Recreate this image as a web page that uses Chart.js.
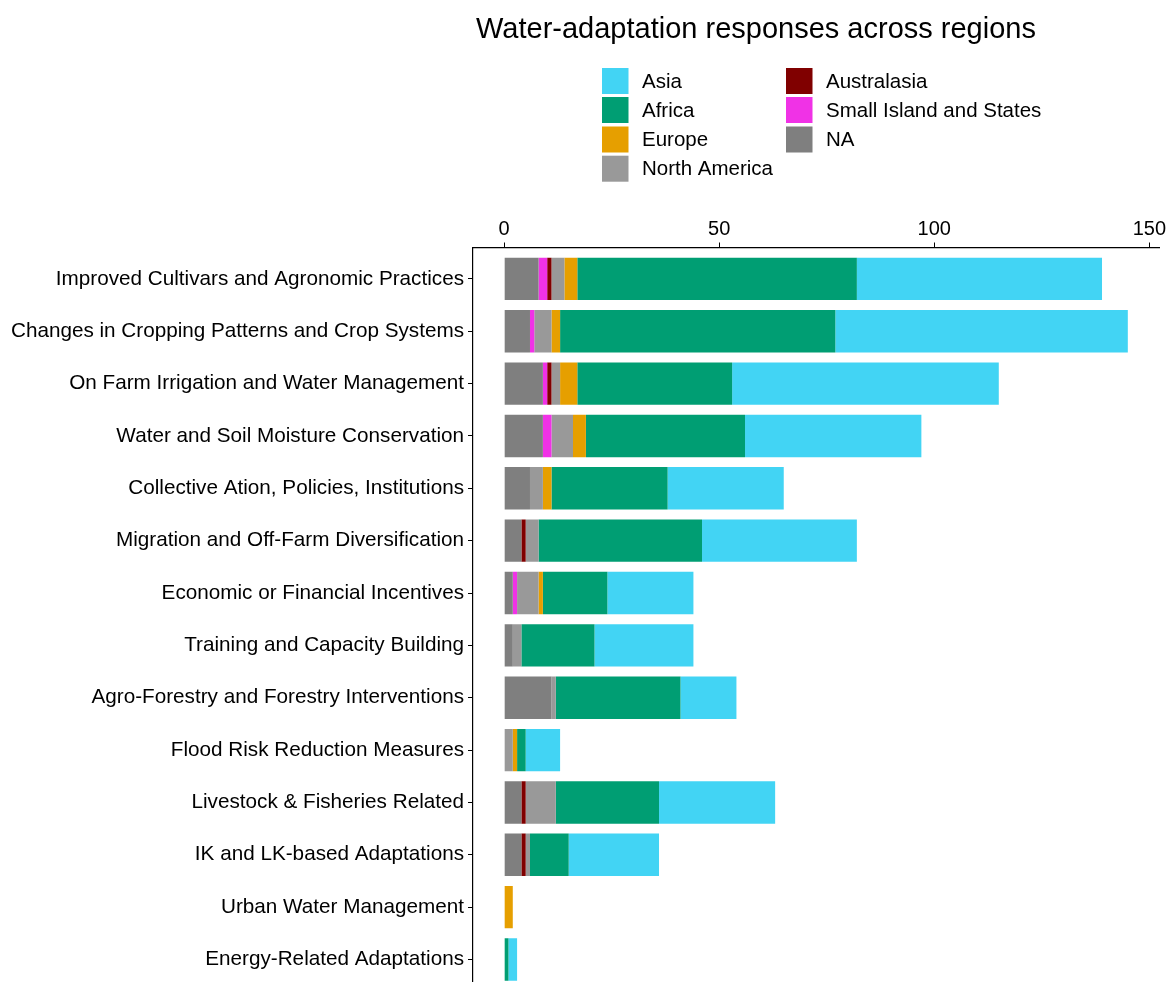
<!DOCTYPE html>
<html>
<head>
<meta charset="utf-8">
<script src="https://cdn.jsdelivr.net/npm/chart.js@4.4.1/dist/chart.umd.min.js"></script>
<style>
  html, body { margin: 0; padding: 0; background: #fff; overflow: hidden; }
  #wrap { width: 1169px; height: 982px; position: relative; }
</style>
</head>
<body>
<div id="wrap"><canvas id="c" width="1169" height="982"></canvas></div>
<script>
const chartTitle = 'Water-adaptation responses across regions';

const categories = [
  'Improved Cultivars and Agronomic Practices',
  'Changes in Cropping Patterns and Crop Systems',
  'On Farm Irrigation and Water Management',
  'Water and Soil Moisture Conservation',
  'Collective Ation, Policies, Institutions',
  'Migration and Off-Farm Diversification',
  'Economic or Financial Incentives',
  'Training and Capacity Building',
  'Agro-Forestry and Forestry Interventions',
  'Flood Risk Reduction Measures',
  'Livestock & Fisheries Related',
  'IK and LK-based Adaptations',
  'Urban Water Management',
  'Energy-Related Adaptations'
];

const xTicks = [0, 50, 100, 150];

// stacked from the axis outward
const naValues           = [8, 6, 9, 9, 6, 4, 2, 2, 11, 0, 4, 4, 0, 0];
const smallIslandValues  = [2, 1, 1, 2, 0, 0, 1, 0, 0, 0, 0, 0, 0, 0];
const australasiaValues  = [1, 0, 1, 0, 0, 1, 0, 0, 0, 0, 1, 1, 0, 0];
const northAmericaValues = [3, 4, 2, 5, 3, 3, 5, 2, 1, 2, 7, 1, 0, 0];
const europeValues       = [3, 2, 4, 3, 2, 0, 1, 0, 0, 1, 0, 0, 2, 0];
const africaValues       = [65, 64, 36, 37, 27, 38, 15, 17, 29, 2, 24, 9, 0, 1];
const asiaValues         = [57, 68, 62, 41, 27, 36, 20, 23, 13, 8, 27, 21, 0, 2];

const seriesNames  = ['NA', 'Small Island and States', 'Australasia', 'North America', 'Europe', 'Africa', 'Asia'];
const seriesValues = [naValues, smallIslandValues, australasiaValues, northAmericaValues, europeValues, africaValues, asiaValues];
const seriesColors = ['#7F7F7F', '#F032E6', '#800000', '#999999', '#E69F00', '#009E73', '#42D4F4'];

const legendOrder = ['Asia', 'Africa', 'Europe', 'North America', 'Australasia', 'Small Island and States', 'NA'];

const FONT = "'Liberation Sans', Arial, Helvetica, sans-serif";

const datasets = seriesNames.map((name, k) => ({
  label: name,
  data: seriesValues[k].map((v, i) => ({ x: v, y: i })),
  backgroundColor: seriesColors[k],
  borderWidth: 0
}));

const headerPlugin = {
  id: 'header',
  afterDraw(chart) {
    const ctx = chart.ctx;
    ctx.save();
    ctx.fillStyle = '#000';
    ctx.font = '29px ' + FONT;
    ctx.textAlign = 'center';
    ctx.textBaseline = 'alphabetic';
    ctx.fillText(chartTitle, 756, 38);

    const colX = [602, 786];
    const rowY = [81, 110, 139.5, 168.7];
    const perCol = 4;
    ctx.font = '20.5px ' + FONT;
    ctx.textAlign = 'left';
    ctx.textBaseline = 'middle';
    legendOrder.forEach((name, j) => {
      const col = Math.floor(j / perCol);
      const row = j % perCol;
      const idx = seriesNames.indexOf(name);
      const x = colX[col];
      const cy = rowY[row];
      ctx.fillStyle = chart.data.datasets[idx].backgroundColor;
      ctx.fillRect(x, cy - 13, 26.5, 26);
      ctx.fillStyle = '#000';
      ctx.fillText(name, x + 40, cy + 1);
    });
    ctx.restore();
  }
};

new Chart(document.getElementById('c'), {
  type: 'bar',
  data: { datasets },
  plugins: [headerPlugin],
  options: {
    responsive: false,
    animation: false,
    devicePixelRatio: 1,
    indexAxis: 'y',
    layout: { padding: { top: 0, right: 10, bottom: 0, left: 0 } },
    datasets: { bar: { barPercentage: 0.81, categoryPercentage: 1 } },
    plugins: {
      legend: { display: false },
      title: { display: false },
      tooltip: { enabled: false }
    },
    scales: {
      x: {
        type: 'linear',
        position: 'top',
        stacked: true,
        offset: false,
        min: -7.25,
        max: 152.25,
        afterBuildTicks: s => { s.ticks = xTicks.map(v => ({ value: v })); },
        afterFit: s => { s.height = 247.5; s.paddingLeft = 0; s.paddingRight = 0; },
        grid: { display: true, offset: false, drawOnChartArea: false, drawTicks: true, tickLength: 5, color: '#000', lineWidth: 1 },
        border: { display: true, color: '#000', width: 1.2 },
        ticks: { color: '#000', font: { family: FONT, size: 20 }, padding: 1, maxRotation: 0, autoSkip: false }
      },
      y: {
        type: 'linear',
        reverse: true,
        stacked: true,
        offset: false,
        min: -0.6,
        max: 13.43,
        afterBuildTicks: s => { s.ticks = categories.map((c, i) => ({ value: i })); },
        afterFit: s => { s.width = 473; s.paddingTop = 0; s.paddingBottom = 0; },
        grid: { display: true, offset: false, drawOnChartArea: false, drawTicks: true, tickLength: 5, color: '#000', lineWidth: 1 },
        border: { display: true, color: '#000', width: 1.2 },
        ticks: {
          color: '#000',
          font: { family: FONT, size: 20.7 },
          padding: 4,
          autoSkip: false,
          callback: v => categories[v]
        }
      }
    }
  }
});
</script>
</body>
</html>
